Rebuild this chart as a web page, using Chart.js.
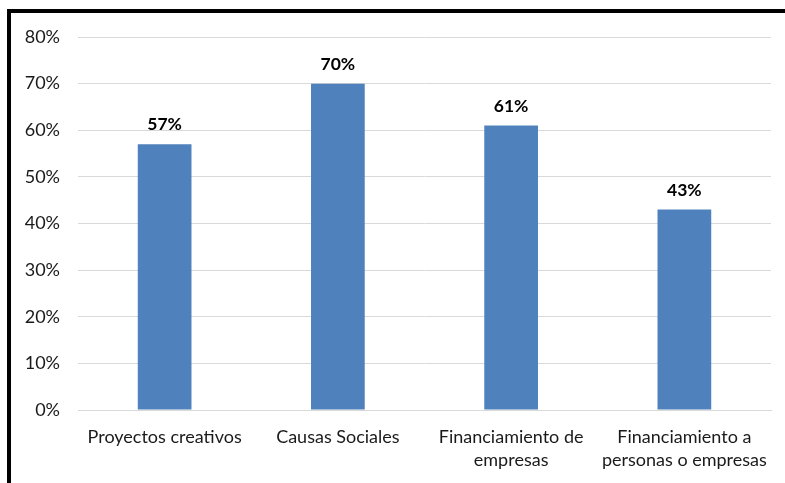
<!DOCTYPE html>
<html>
<head>
<meta charset="utf-8">
<script src="https://cdn.jsdelivr.net/npm/chart.js@4"></script>
<style>
  html, body { margin: 0; padding: 0; background: #fff; overflow: hidden; }
  #frame {
    position: absolute; left: 7px; top: 9px;
    width: 820px; height: 520px;
    border: 4px solid #000;
  }
  #wrap { position: absolute; left: 0; top: 0; width: 785px; height: 483px; }
</style>
</head>
<body>
<div id="frame"></div>
<div id="wrap"><canvas id="chart" width="785" height="483"></canvas></div>
<script>
const categories = [
  'Proyectos creativos',
  'Causas Sociales',
  ['Financiamiento de', 'empresas'],
  ['Financiamiento a', 'personas o empresas']
];
const values = [57, 70, 61, 43];
const tickValues = [0, 10, 20, 30, 40, 50, 60, 70, 80];

const FONT = 'Lato, "Liberation Sans", sans-serif';

// value labels on top of each bar
const barLabels = {
  id: 'barLabels',
  afterDatasetsDraw(chart) {
    const ctx = chart.ctx;
    const meta = chart.getDatasetMeta(0);
    ctx.save();
    ctx.font = 'bold 17.5px ' + FONT;
    ctx.fillStyle = '#000';
    ctx.textAlign = 'center';
    ctx.textBaseline = 'alphabetic';
    meta.data.forEach((bar, i) => {
      ctx.fillText(values[i] + '%', bar.x, bar.y - 14);
    });
    ctx.restore();
  }
};

new Chart(document.getElementById('chart'), {
  type: 'bar',
  data: {
    labels: categories,
    datasets: [{
      data: values,
      backgroundColor: '#4f81bd',
      categoryPercentage: 1,
      barPercentage: 0.31
    }]
  },
  options: {
    responsive: false,
    animation: false,
    layout: { padding: { left: 0, right: 14, top: 37, bottom: 0 } },
    plugins: { legend: { display: false }, tooltip: { enabled: false } },
    scales: {
      x: {
        grid: { display: false, drawTicks: false },
        border: { color: '#d9d9d9', width: 1 },
        ticks: {
          padding: 16,
          maxRotation: 0,
          autoSkip: false,
          color: '#1a1a1a',
          font: { family: FONT, size: 18, lineHeight: 1.28 }
        },
        afterFit(scale) { scale.height = 73; }
      },
      y: {
        min: 0,
        max: 80,
        afterBuildTicks(scale) { scale.ticks = tickValues.map(v => ({ value: v })); },
        grid: { color: '#d9d9d9', drawTicks: false },
        border: { display: false },
        ticks: {
          padding: 18,
          color: '#1a1a1a',
          font: { family: FONT, size: 18 },
          callback: v => v + '%'
        },
        afterFit(scale) { scale.width = 78; }
      }
    }
  },
  plugins: [barLabels]
});
</script>
</body>
</html>
